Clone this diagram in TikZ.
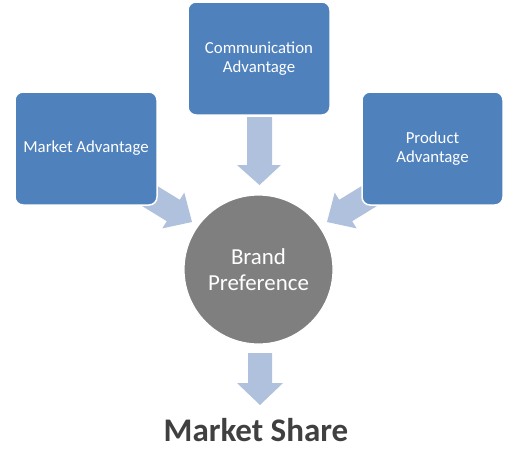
\documentclass[tikz,border=0pt]{standalone}
\usepackage{fontspec}
\setmainfont{Carlito}
\definecolor{boxblue}{HTML}{4F81BD}
\definecolor{arrowblue}{HTML}{AFC1DD}
\definecolor{circgray}{HTML}{7F7F7F}
\definecolor{titlegray}{HTML}{404040}
\tikzset{
  advbox/.style={draw=white, line width=1.5pt, fill=boxblue, rounded corners=8pt,
    text=white, align=center, font=\fontsize{16.8}{19.5}\selectfont, inner sep=0pt},
  blockarrow/.style={fill=arrowblue, draw=none},
}
\begin{document}
\begin{tikzpicture}[x=1pt,y=-1pt]
\useasboundingbox (0,0) rectangle (518,472);
% block arrows (drawn first, boxes overlap tails)
\path[blockarrow] (247,117) -- (272,117) -- (272,165) -- (281,165) -- (259.5,185) -- (237,165) -- (247,165) -- cycle;
\path[blockarrow] (248,353) -- (272,353) -- (272,383) -- (283,383) -- (260,405) -- (237,383) -- (248,383) -- cycle;
\path[blockarrow] (147.5,180) -- (179.8,199.8) -- (184.3,192.6) -- (192,222) -- (162.3,228.4) -- (166.8,221.2) -- (134.4,201.3) -- cycle;
\begin{scope}[xshift=519pt, xscale=-1]
\path[blockarrow] (147.5,180) -- (179.8,199.8) -- (184.3,192.6) -- (192,222) -- (162.3,228.4) -- (166.8,221.2) -- (134.4,201.3) -- cycle;
\end{scope}
% boxes
\node[advbox, minimum width=142pt, minimum height=113pt] (mkt) at (86,148.5) {Market Advantage};
\node[advbox, minimum width=142pt, minimum height=113pt] (com) at (259,58.5) {Communication\\Advantage};
\node[advbox, minimum width=141pt, minimum height=113pt] (prd) at (432.5,148.5) {Product\\Advantage};
% circle
\node[circle, draw=white, line width=1.2pt, fill=circgray, minimum size=149pt, inner sep=0pt,
  text=white, align=center, font=\fontsize{22.9}{26.7}\selectfont] (brand) at (258.5,269.5) {Brand\\Preference};
% title
\node[font=\fontsize{33}{36}\selectfont\bfseries, text=titlegray, anchor=base] (share) at (256,441.7) {Market Share};
\end{tikzpicture}
\end{document}
